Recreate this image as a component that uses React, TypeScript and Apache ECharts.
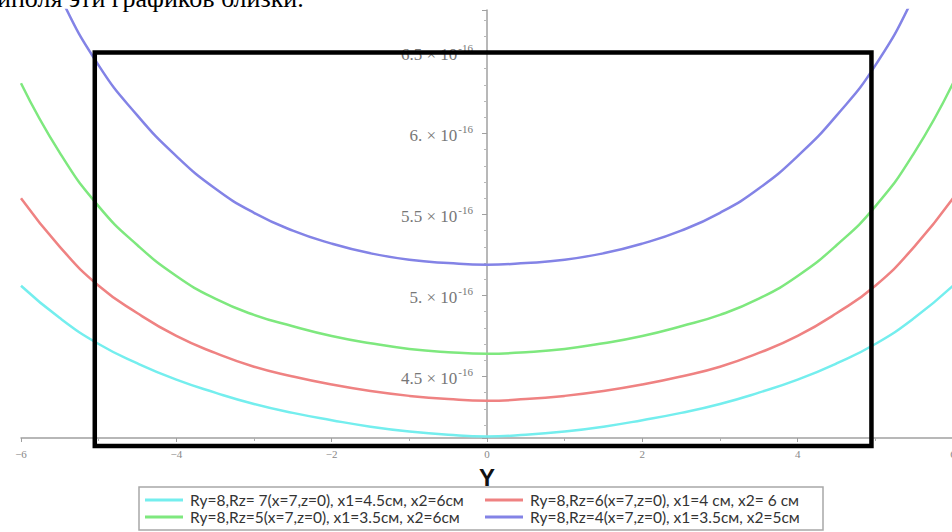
import React, { useEffect, useRef } from "react";
import * as echarts from "echarts";

// abscissa (Y coordinate, cm)
const xValues = [-6, -5.5, -5, -4.5, -4, -3.5, -3, -2.5, -2, -1.5, -1, -0.5, 0, 0.5, 1, 1.5, 2, 2.5, 3, 3.5, 4, 4.5, 5, 5.5, 6];
// field values, in units of 10^-16
const cyanValues = [5.06, 4.86, 4.7, 4.58, 4.48, 4.4, 4.33, 4.275, 4.23, 4.19, 4.16, 4.14, 4.13, 4.14, 4.16, 4.19, 4.23, 4.275, 4.33, 4.4, 4.48, 4.58, 4.7, 4.86, 5.06];
const redValues = [5.6, 5.3, 5.06, 4.89, 4.75, 4.645, 4.56, 4.5, 4.45, 4.41, 4.38, 4.36, 4.35, 4.36, 4.38, 4.41, 4.45, 4.5, 4.56, 4.645, 4.75, 4.89, 5.06, 5.3, 5.6];
const greenValues = [6.31, 5.88, 5.55, 5.31, 5.12, 4.98, 4.88, 4.81, 4.75, 4.705, 4.67, 4.65, 4.64, 4.65, 4.67, 4.705, 4.75, 4.81, 4.88, 4.98, 5.12, 5.31, 5.55, 5.88, 6.31];
const blueValues = [7.4, 6.85, 6.42, 6.11, 5.86, 5.66, 5.51, 5.4, 5.32, 5.26, 5.22, 5.2, 5.19, 5.2, 5.22, 5.26, 5.32, 5.4, 5.51, 5.66, 5.86, 6.11, 6.42, 6.85, 7.4];

const seriesNames = [
  "Ry=8,Rz= 7(x=7,z=0), x1=4.5см, x2=6см",
  "Ry=8,Rz=6(x=7,z=0), x1=4 см, x2= 6 см",
  "Ry=8,Rz=5(x=7,z=0), x1=3.5см, x2=6см",
  "Ry=8,Rz=4(x=7,z=0), x1=3.5см, x2=5см",
];
const seriesColors = ["#74eeee", "#ef8282", "#7ee87e", "#8383e6"];

const yTickValues = [4.5, 5, 5.5, 6, 6.5];
const yAxisMin = 4.12;
const yAxisMax = 6.762;
const xAxisMin = -6;
const xAxisMax = 6;
const xAxisName = "Y";
const captionText = "иполя эти графиков близки.";
// highlighted frame corners in data units
const frameTopLeft = [-5.05, 6.5];
const frameBottomRight = [4.95, 4.07];

const GRID_LEFT = 21;
const GRID_WIDTH = 932;

export default function App() {
  const ref = useRef<HTMLDivElement>(null);

  useEffect(() => {
    document.body.style.margin = "0";
    const chart = echarts.init(ref.current!, null, { renderer: "svg" });
    const valueSets = [cyanValues, redValues, greenValues, blueValues];

    const legendBase = {
      orient: "vertical",
      top: 492,
      padding: 0,
      icon: "rect",
      itemWidth: 38,
      itemHeight: 3,
      itemGap: 1,
      textStyle: { fontFamily: "Lato", fontSize: 15.5, color: "#333", lineHeight: 15, padding: [0, 0, 0, 2] },
    };

    // y axis sits at x = 0 of the horizontal axis
    const yAxisOffset = -((0 - xAxisMin) / (xAxisMax - xAxisMin)) * GRID_WIDTH;

    chart.setOption({
      animation: false,
      backgroundColor: "#fff",
      grid: { left: GRID_LEFT, top: 10, width: GRID_WIDTH, height: 428, outerBoundsMode: "none", containLabel: false },
      legend: [
        { ...legendBase, left: 145, data: [seriesNames[0], seriesNames[2]] },
        { ...legendBase, left: 485, data: [seriesNames[1], seriesNames[3]] },
      ],
      xAxis: {
        type: "value",
        min: xAxisMin,
        max: xAxisMax,
        interval: 2,
        name: xAxisName,
        nameLocation: "middle",
        nameGap: 27,
        nameTextStyle: { fontFamily: "Liberation Sans", fontWeight: "bold", fontSize: 24, color: "#111" },
        axisLine: { onZero: false, lineStyle: { color: "#a0a0a0", width: 1.5 } },
        axisTick: { show: true, length: 4, lineStyle: { color: "#a0a0a0" } },
        minorTick: { show: true, splitNumber: 2, length: 3, lineStyle: { color: "#b0b0b0" } },
        splitLine: { show: false },
        axisLabel: {
          margin: 10,
          fontFamily: "Liberation Serif",
          fontSize: 11,
          color: "#888",
          formatter: (v: number) => (v < 0 ? "\u2212" + Math.abs(v) : String(v)),
        },
      },
      yAxis: {
        type: "value",
        min: yAxisMin,
        max: yAxisMax,
        splitNumber: 5,
        minInterval: 0.5,
        maxInterval: 0.5,
        offset: yAxisOffset,
        axisLine: { onZero: false, lineStyle: { color: "#a0a0a0", width: 1.5 } },
        axisTick: { show: true, length: 5, lineStyle: { color: "#a0a0a0" } },
        minorTick: { show: true, splitNumber: 5, length: 3, lineStyle: { color: "#b8b8b8" } },
        splitLine: { show: false },
        axisLabel: {
          showMinLabel: false,
          showMaxLabel: false,
          margin: 14,
          formatter: (v: number) => {
            const hit = yTickValues.find((t) => Math.abs(t - v) < 1e-6);
            if (hit === undefined) return "";
            const s = Number.isInteger(hit) ? hit + "." : String(hit);
            return `{m|${s} × 10}{s|-16}`;
          },
          rich: {
            m: { fontFamily: "Liberation Serif", fontSize: 17, color: "#777", padding: [4, 0, 0, 0] },
            s: { fontFamily: "Liberation Serif", fontSize: 11, color: "#777", padding: [0, 0, 8, 1] },
          },
        },
      },
      series: valueSets.map((vals, i) => ({
        name: seriesNames[i],
        type: "line",
        smooth: true,
        symbol: "none",
        clip: true,
        color: seriesColors[i],
        lineStyle: { width: 2.5, color: seriesColors[i] },
        data: xValues.map((x, j) => [x, vals[j]]),
      })),
    });

    const p1 = chart.convertToPixel({ gridIndex: 0 }, frameTopLeft) as number[];
    const p2 = chart.convertToPixel({ gridIndex: 0 }, frameBottomRight) as number[];

    chart.setOption({
      graphic: [
        {
          type: "rect",
          z: 10,
          shape: { x: p1[0], y: p1[1], width: p2[0] - p1[0], height: p2[1] - p1[1] },
          style: { fill: "none", stroke: "#000", lineWidth: 4.5 },
        },
        {
          type: "rect",
          z: 1,
          shape: { x: 139, y: 487, width: 684, height: 43 },
          style: { fill: "#fff", stroke: "#a8a8a8", lineWidth: 1.5 },
        },
        {
          type: "text",
          z: 10,
          x: -3,
          y: 11,
          style: {
            text: captionText,
            font: '26px "Liberation Serif"',
            fill: "#000",
            verticalAlign: "bottom",
          },
        },
      ],
    });

    return () => chart.dispose();
  }, []);

  return <div ref={ref} style={{ width: 952, height: 532 }} />;
}
